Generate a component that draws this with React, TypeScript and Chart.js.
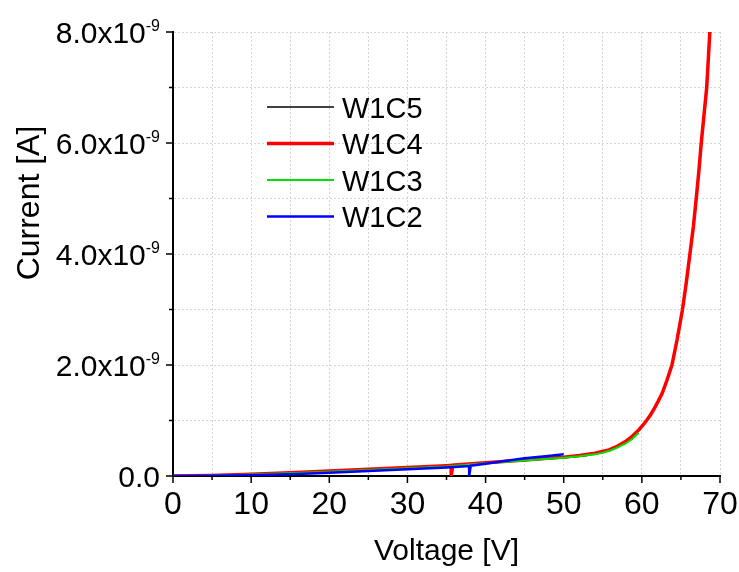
import { useEffect, useRef } from 'react';
import { Chart, registerables } from 'chart.js';

Chart.register(...registerables);

const seriesLabels = ['W1C5', 'W1C4', 'W1C3', 'W1C2'];
const seriesColors = ['#000000', '#ff0000', '#00e000', '#0000ff'];
const seriesWidths = [1.5, 3.5, 2, 2.5];
const seriesOrder = [3, 2, 1, 0];

const voltsW1C5 = [0, 5, 10, 15, 20, 25, 30, 35, 40, 45, 50, 53];
const currW1C5 = [0, 0.006e-9, 0.024e-9, 0.05e-9, 0.08e-9, 0.11e-9, 0.145e-9, 0.175e-9, 0.23e-9, 0.28e-9, 0.33e-9, 0.37e-9];

const voltsW1C4 = [0, 5, 10, 15, 20, 25, 30, 35, 35.6, 35.6, 35.8, 40, 45, 50, 52, 54, 55.8, 56.9, 57.9, 58.8, 59.6, 60.1, 60.6, 61.1, 61.6, 62.1, 62.6, 63.2, 63.85, 64.5, 65.2, 65.7, 66.15, 66.6, 66.96, 67.3, 67.6, 67.95, 68.3, 68.5, 68.7];
const currW1C4 = [0, 0.008e-9, 0.03e-9, 0.058e-9, 0.088e-9, 0.12e-9, 0.155e-9, 0.185e-9, 0.19e-9, 0, 0.195e-9, 0.24e-9, 0.29e-9, 0.34e-9, 0.37e-9, 0.41e-9, 0.47e-9, 0.54e-9, 0.62e-9, 0.72e-9, 0.83e-9, 0.91e-9, 1.0e-9, 1.1e-9, 1.22e-9, 1.35e-9, 1.49e-9, 1.72e-9, 2.0e-9, 2.45e-9, 3.0e-9, 3.5e-9, 4.0e-9, 4.5e-9, 5.0e-9, 5.5e-9, 6.0e-9, 6.5e-9, 7.0e-9, 7.5e-9, 8.0e-9];

const voltsW1C3 = [0, 5, 10, 15, 20, 25, 30, 35, 40, 45, 50, 52, 54, 55, 56, 57, 58, 58.8, 59.6];
const currW1C3 = [0, 0.006e-9, 0.025e-9, 0.05e-9, 0.078e-9, 0.108e-9, 0.14e-9, 0.172e-9, 0.228e-9, 0.28e-9, 0.33e-9, 0.355e-9, 0.39e-9, 0.42e-9, 0.46e-9, 0.52e-9, 0.59e-9, 0.67e-9, 0.78e-9];

const voltsW1C2 = [0, 5, 10, 15, 20, 25, 30, 35, 37.9, 37.9, 38.1, 40, 42, 45, 48, 50];
const currW1C2 = [0, 0.003e-9, 0.014e-9, 0.033e-9, 0.058e-9, 0.088e-9, 0.12e-9, 0.155e-9, 0.18e-9, 0, 0.185e-9, 0.22e-9, 0.26e-9, 0.32e-9, 0.36e-9, 0.39e-9];

const seriesVolts = [voltsW1C5, voltsW1C4, voltsW1C3, voltsW1C2];
const seriesCurr = [currW1C5, currW1C4, currW1C3, currW1C2];

const xMin = 0;
const xMax = 70;
const xStep = 5;
const yMin = 0;
const yMax = 8e-9;
const yStep = 1e-9;
const yExponent = '-9';
const xTitle = 'Voltage [V]';
const yTitle = 'Current [A]';

const FONT = '"Liberation Sans", Arial, sans-serif';

const customPlugin = {
  id: 'customDecor',
  afterDraw(chart: any) {
    const ctx = chart.ctx as CanvasRenderingContext2D;
    const xs = chart.scales.x;
    const ys = chart.scales.y;
    const { left, bottom } = chart.chartArea;
    ctx.save();
    ctx.strokeStyle = '#000';
    ctx.lineWidth = 1.5;
    xs.ticks.forEach((t: any) => {
      const px = xs.getPixelForValue(t.value);
      const len = Math.round(t.value) % 10 === 0 ? 7 : 4;
      ctx.beginPath();
      ctx.moveTo(px, bottom);
      ctx.lineTo(px, bottom + len);
      ctx.stroke();
    });
    ys.ticks.forEach((t: any) => {
      const py = ys.getPixelForValue(t.value);
      const k = Math.round(t.value / yStep);
      const len = k % 2 === 0 ? 7 : 4;
      ctx.beginPath();
      ctx.moveTo(left, py);
      ctx.lineTo(left - len, py);
      ctx.stroke();
    });
    // y tick labels with superscript exponent
    ctx.fillStyle = '#000';
    ys.ticks.forEach((t: any) => {
      const k = Math.round(t.value / yStep);
      if (k % 2 !== 0) return;
      const py = ys.getPixelForValue(t.value);
      const main = k === 0 ? '0.0' : k.toFixed(1) + 'x10';
      const sup = k === 0 ? '' : yExponent;
      ctx.font = `16px ${FONT}`;
      const supW = sup ? ctx.measureText(sup).width : 0;
      const rightEdge = left - 13;
      ctx.font = `30px ${FONT}`;
      ctx.textAlign = 'right';
      ctx.textBaseline = 'alphabetic';
      ctx.fillText(main, rightEdge - supW, py + 11);
      if (sup) {
        ctx.font = `16px ${FONT}`;
        ctx.textAlign = 'left';
        ctx.fillText(sup, rightEdge - supW, py - 1);
      }
    });
    // y axis title
    ctx.save();
    ctx.translate(30, 203);
    ctx.rotate(-Math.PI / 2);
    ctx.font = `32px ${FONT}`;
    ctx.textAlign = 'center';
    ctx.textBaseline = 'middle';
    ctx.fillText(yTitle, 0, 0);
    ctx.restore();
    // legend
    const lx0 = 267;
    const lx1 = 334;
    const ly0 = 107;
    const lgap = 36.5;
    chart.data.datasets.forEach((ds: any, i: number) => {
      const y = ly0 + i * lgap;
      ctx.strokeStyle = ds.borderColor;
      ctx.lineWidth = ds.borderWidth;
      ctx.beginPath();
      ctx.moveTo(lx0, y);
      ctx.lineTo(lx1, y);
      ctx.stroke();
      ctx.fillStyle = '#000';
      ctx.font = `29px ${FONT}`;
      ctx.textAlign = 'left';
      ctx.textBaseline = 'alphabetic';
      ctx.fillText(ds.label, 342, y + 10.5);
    });
    ctx.restore();
  },
};

export default function App() {
  const ref = useRef<HTMLCanvasElement | null>(null);
  useEffect(() => {
    if (!ref.current) return;
    const datasets = seriesLabels.map((label, i) => ({
      label,
      data: seriesVolts[i].map((v, j) => ({ x: v, y: seriesCurr[i][j] })),
      borderColor: seriesColors[i],
      backgroundColor: seriesColors[i],
      borderWidth: seriesWidths[i],
      pointRadius: 0,
      tension: 0,
      fill: false,
      order: seriesOrder[i],
    }));
    const chart = new Chart(ref.current, {
      type: 'line',
      data: { datasets },
      options: {
        animation: false,
        responsive: false,
        maintainAspectRatio: false,
        layout: { padding: { top: 32, right: 19, left: 0, bottom: 0 } },
        plugins: { legend: { display: false }, tooltip: { enabled: false } },
        scales: {
          x: {
            type: 'linear',
            min: xMin,
            max: xMax,
            ticks: {
              stepSize: xStep,
              color: '#000',
              font: { family: FONT, size: 32 },
              padding: 10,
              maxRotation: 0,
              autoSkip: false,
              callback: (v: any) => (Math.round(v) % 10 === 0 ? String(v) : ''),
            },
            grid: { color: '#d6d6d6', lineWidth: 1, drawTicks: false },
            border: { display: true, color: '#000', width: 2, dash: [2, 2] },
            title: { display: true, text: xTitle, color: '#000', font: { family: FONT, size: 30 }, padding: { top: 0, bottom: 2 } },
            afterFit: (s: any) => { s.height = 96; s.paddingLeft = 0; s.paddingRight = 0; },
          },
          y: {
            type: 'linear',
            min: yMin,
            max: yMax,
            ticks: { stepSize: yStep, display: false, callback: () => '' },
            grid: { color: '#d6d6d6', lineWidth: 1, drawTicks: false },
            border: { display: true, color: '#000', width: 2, dash: [2, 2] },
            afterFit: (s: any) => { s.width = 173; s.paddingTop = 0; s.paddingBottom = 0; },
          },
        },
      },
      plugins: [customPlugin],
    });
    return () => chart.destroy();
  }, []);
  return (
    <div style={{ position: 'fixed', left: 0, top: 0, width: 739, height: 572, background: '#fff' }}>
      <canvas ref={ref} width={739} height={572} style={{ width: 739, height: 572 }} />
    </div>
  );
}
